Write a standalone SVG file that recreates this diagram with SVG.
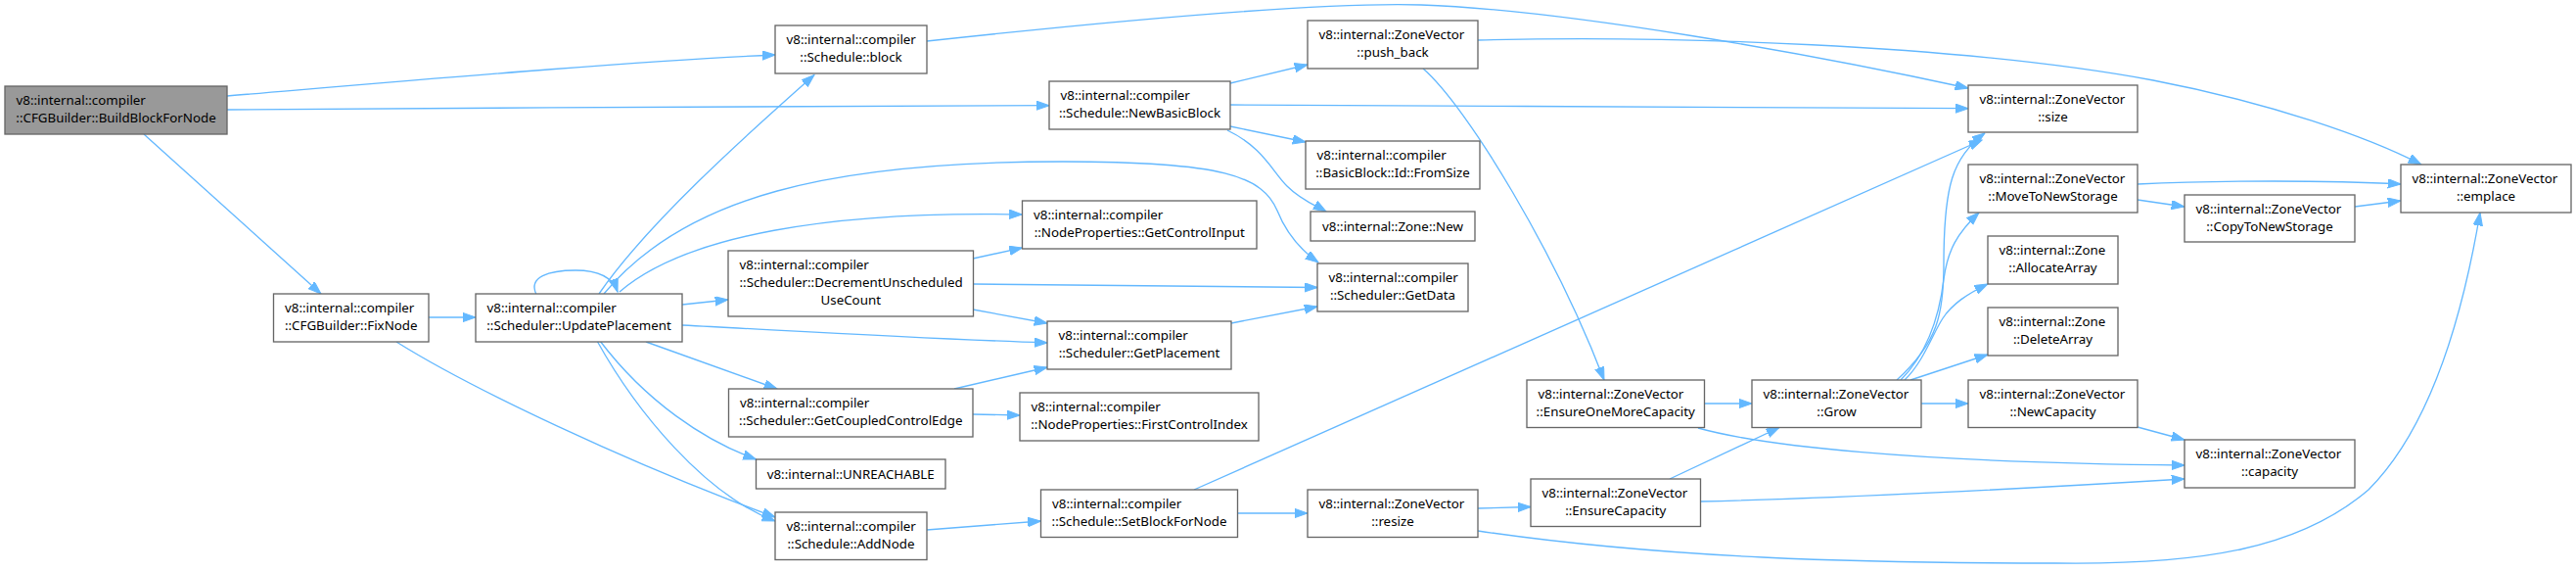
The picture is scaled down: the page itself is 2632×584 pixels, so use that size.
<svg xmlns="http://www.w3.org/2000/svg" width="2632" height="584" viewBox="0 0 2632 584">
<style>
.n rect{fill:#ffffff;stroke:#666666;stroke-width:1.33}
.n.root rect{fill:#999999}
.n text{font-family:"Noto Sans","Open Sans","DejaVu Sans",sans-serif;font-size:13.33px;fill:#000000}
.n text.m{text-anchor:middle}
.e path{fill:none;stroke:#63b8ff;stroke-width:1.33;marker-end:url(#ah)}
</style>
<defs>
<marker id="ah" markerUnits="userSpaceOnUse" markerWidth="14" markerHeight="10" viewBox="0 0 14 10" refX="13.3" refY="4.7" orient="auto">
<path d="M0,0 L13.3,4.7 L0,9.4 z" fill="#63b8ff" stroke="#63b8ff" stroke-width="1"/>
</marker>
</defs>
<rect width="2632" height="584" fill="#ffffff"/>
<g id="edges" class="e">
<path d="M232,98 C400,84 650,62 792,56"/>
<path d="M232,112 C500,110 900,108 1072,107.7"/>
<path d="M147,137 L328,300"/>
<path d="M438,324 L486,324"/>
<path d="M405,349 C480,396 640,472 792,528"/>
<path d="M547.7,300 C540,283 560,276 588,276 C612,276 626,283 631,298"/>
<path d="M612,300 C660,230 760,140 832,76.5"/>
<path d="M617,300 C700,200 850,165 1086,165 C1250,165 1290,180 1305,215 C1315,240 1330,256 1347,268"/>
<path d="M633,298 C700,240 850,215 1044.5,219"/>
<path d="M697,311 L744,306"/>
<path d="M697,332 C850,340 950,346 1070,350"/>
<path d="M660,349 L794,397"/>
<path d="M613,348 C660,410 720,450 772.5,469"/>
<path d="M610,348 C650,420 720,505 792,532"/>
<path d="M994,264 L1044.5,253"/>
<path d="M994,290 L1346,293.5"/>
<path d="M994,316 L1070,330"/>
<path d="M975,397 L1070,375"/>
<path d="M994,423 L1042,424"/>
<path d="M1258,330 L1346,313"/>
<path d="M947,541 L1063.5,532"/>
<path d="M1264.5,524 L1336,524"/>
<path d="M1220,500 L2025,143"/>
<path d="M947,42 C1150,20 1350,2 1452,5 C1600,10 1850,55 2011,90"/>
<path d="M1257,85 L1336,66"/>
<path d="M1257,107 C1500,108 1800,110 2011,110.7"/>
<path d="M1257,129 L1334,145"/>
<path d="M1254,133 C1290,150 1300,175 1315,190 C1330,205 1345,210 1355,216"/>
<path d="M1454,70 C1500,110 1590,260 1639,388"/>
<path d="M1510,41 C1700,36 2000,45 2200,82 C2320,105 2420,140 2474,168"/>
<path d="M1741.5,412 L1790,412"/>
<path d="M1735,437 C1800,455 1950,472 2232,475"/>
<path d="M1706,489 L1818,436.5"/>
<path d="M1737.5,512 C1900,508 2050,500 2232,489"/>
<path d="M1510,519 L1564,517.5"/>
<path d="M1510,542 C1700,570 1900,575 2100,575 C2250,577 2350,560 2420,500 C2490,430 2520,300 2534,217"/>
<path d="M1938,388 C1980,350 1986,320 1986,270 C1986,190 1995,160 2028,136"/>
<path d="M1942,388 C1975,355 1983,310 1986,285 C1990,255 2000,238 2022,217"/>
<path d="M1946,388 C1965,370 1975,340 1985,325 C1995,310 2010,300 2031,290"/>
<path d="M1952,388 L2031,362"/>
<path d="M1963,412 L2011,412"/>
<path d="M2184,188 C2270,184 2380,184 2453,188"/>
<path d="M2184,204 L2232,211"/>
<path d="M2406,211 L2453,205"/>
<path d="M2184,436 L2232,449"/>
</g>
<g id="n1" class="n root"><rect x="5" y="88" width="227" height="49"/><text x="16.5" y="106.6">v8::internal::compiler</text><text class="m" x="118.5" y="125">::CFGBuilder::BuildBlockForNode</text></g>
<g id="n2" class="n"><rect x="279.5" y="300" width="158.5" height="49"/><text x="291" y="318.6">v8::internal::compiler</text><text class="m" x="358.75" y="337">::CFGBuilder::FixNode</text></g>
<g id="n3" class="n"><rect x="486" y="300" width="211" height="49"/><text x="497.5" y="318.6">v8::internal::compiler</text><text class="m" x="591.5" y="337">::Scheduler::UpdatePlacement</text></g>
<g id="n4" class="n"><rect x="792" y="26" width="155" height="49"/><text x="803.5" y="44.6">v8::internal::compiler</text><text class="m" x="869.5" y="63">::Schedule::block</text></g>
<g id="n5" class="n"><rect x="1072" y="83" width="185" height="49"/><text x="1083.5" y="101.6">v8::internal::compiler</text><text class="m" x="1164.5" y="120">::Schedule::NewBasicBlock</text></g>
<g id="n6" class="n"><rect x="1044.5" y="205" width="239.5" height="49"/><text x="1056" y="223.6">v8::internal::compiler</text><text class="m" x="1164.25" y="242">::NodeProperties::GetControlInput</text></g>
<g id="n7" class="n"><rect x="744" y="256" width="250.5" height="67"/><text x="755.5" y="274.6">v8::internal::compiler</text><text x="755.5" y="292.9">::Scheduler::DecrementUnscheduled</text><text class="m" x="869.25" y="311.2">UseCount</text></g>
<g id="n8" class="n"><rect x="1070" y="328" width="188" height="49"/><text x="1081.5" y="346.6">v8::internal::compiler</text><text class="m" x="1164" y="365">::Scheduler::GetPlacement</text></g>
<g id="n9" class="n"><rect x="744.5" y="397" width="249.5" height="49"/><text x="756" y="415.6">v8::internal::compiler</text><text class="m" x="869.25" y="434">::Scheduler::GetCoupledControlEdge</text></g>
<g id="n10" class="n"><rect x="1042" y="401" width="244" height="49"/><text x="1053.5" y="419.6">v8::internal::compiler</text><text class="m" x="1164" y="438">::NodeProperties::FirstControlIndex</text></g>
<g id="n11" class="n"><rect x="772.5" y="469" width="193.5" height="30"/><text class="m" x="869.25" y="488.5">v8::internal::UNREACHABLE</text></g>
<g id="n12" class="n"><rect x="792" y="523" width="155" height="48.5"/><text x="803.5" y="541.6">v8::internal::compiler</text><text class="m" x="869.5" y="560">::Schedule::AddNode</text></g>
<g id="n13" class="n"><rect x="1063.5" y="500" width="201" height="48.5"/><text x="1075" y="518.6">v8::internal::compiler</text><text class="m" x="1164" y="537">::Schedule::SetBlockForNode</text></g>
<g id="n14" class="n"><rect x="1336" y="21" width="174" height="49"/><text x="1347.5" y="39.6">v8::internal::ZoneVector</text><text class="m" x="1423" y="58">::push_back</text></g>
<g id="n15" class="n"><rect x="1334" y="144" width="178" height="49"/><text x="1345.5" y="162.6">v8::internal::compiler</text><text class="m" x="1423" y="181">::BasicBlock::Id::FromSize</text></g>
<g id="n16" class="n"><rect x="1339" y="216" width="168" height="30"/><text class="m" x="1423" y="235.5">v8::internal::Zone::New</text></g>
<g id="n17" class="n"><rect x="1346" y="269" width="154" height="49"/><text x="1357.5" y="287.6">v8::internal::compiler</text><text class="m" x="1423" y="306">::Scheduler::GetData</text></g>
<g id="n18" class="n"><rect x="1560" y="388" width="181.5" height="48.5"/><text x="1571.5" y="406.6">v8::internal::ZoneVector</text><text class="m" x="1650.75" y="425">::EnsureOneMoreCapacity</text></g>
<g id="n19" class="n"><rect x="1790" y="388" width="173" height="48.5"/><text x="1801.5" y="406.6">v8::internal::ZoneVector</text><text class="m" x="1876.5" y="425">::Grow</text></g>
<g id="n20" class="n"><rect x="1336" y="500" width="174" height="48.5"/><text x="1347.5" y="518.6">v8::internal::ZoneVector</text><text class="m" x="1423" y="537">::resize</text></g>
<g id="n21" class="n"><rect x="1564" y="489" width="173.5" height="48.5"/><text x="1575.5" y="507.6">v8::internal::ZoneVector</text><text class="m" x="1650.75" y="526">::EnsureCapacity</text></g>
<g id="n22" class="n"><rect x="2011" y="87" width="173" height="48"/><text x="2022.5" y="105.6">v8::internal::ZoneVector</text><text class="m" x="2097.5" y="124">::size</text></g>
<g id="n23" class="n"><rect x="2011" y="168" width="173" height="49"/><text x="2022.5" y="186.6">v8::internal::ZoneVector</text><text class="m" x="2097.5" y="205">::MoveToNewStorage</text></g>
<g id="n24" class="n"><rect x="2232" y="199" width="174" height="48"/><text x="2243.5" y="217.6">v8::internal::ZoneVector</text><text class="m" x="2319" y="236">::CopyToNewStorage</text></g>
<g id="n25" class="n"><rect x="2453" y="168" width="174" height="49"/><text x="2464.5" y="186.6">v8::internal::ZoneVector</text><text class="m" x="2540" y="205">::emplace</text></g>
<g id="n26" class="n"><rect x="2031" y="241" width="133" height="49"/><text x="2042.5" y="259.6">v8::internal::Zone</text><text class="m" x="2097.5" y="278">::AllocateArray</text></g>
<g id="n27" class="n"><rect x="2031" y="314" width="133" height="49"/><text x="2042.5" y="332.6">v8::internal::Zone</text><text class="m" x="2097.5" y="351">::DeleteArray</text></g>
<g id="n28" class="n"><rect x="2011" y="388" width="173" height="48.5"/><text x="2022.5" y="406.6">v8::internal::ZoneVector</text><text class="m" x="2097.5" y="425">::NewCapacity</text></g>
<g id="n29" class="n"><rect x="2232" y="449" width="174" height="49"/><text x="2243.5" y="467.6">v8::internal::ZoneVector</text><text class="m" x="2319" y="486">::capacity</text></g>
</svg>
